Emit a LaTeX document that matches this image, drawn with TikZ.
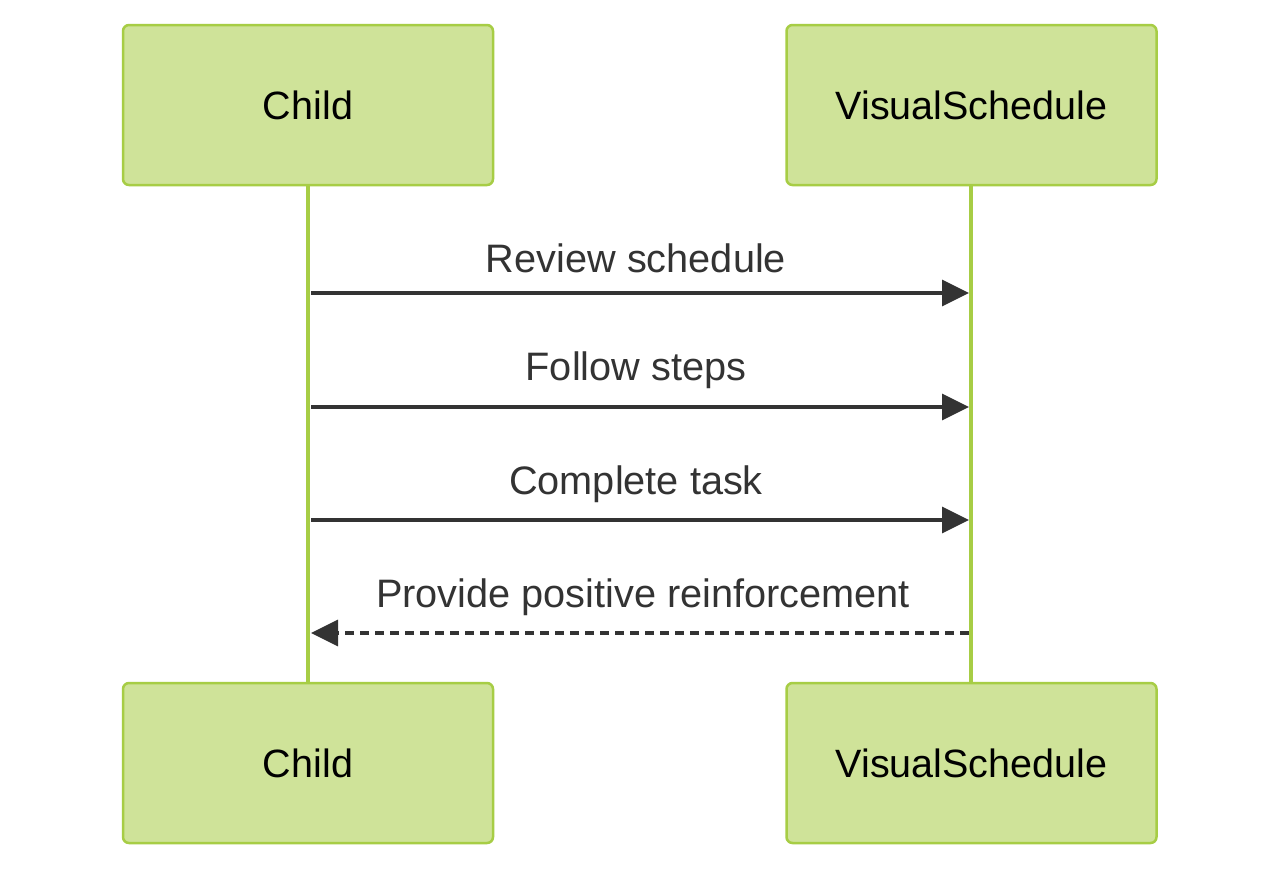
\documentclass[tikz,border=0pt]{standalone}
\usepackage{fontspec}
\setmainfont{Liberation Sans}
\usetikzlibrary{arrows.meta}
\definecolor{boxfill}{HTML}{CFE399}
\definecolor{boxline}{HTML}{A7CD45}
\definecolor{msg}{HTML}{333333}
\tikzset{
  actor/.style={draw=boxline, fill=boxfill, line width=2.5pt, rounded corners=6pt,
    minimum width=370pt, minimum height=160pt, font=\fontsize{39.5}{44}\selectfont, text=black},
  lifeline/.style={draw=boxline, line width=4pt},
  msgline/.style={draw=msg, line width=3.5pt, -{Triangle[length=27pt,width=26pt]}, shorten <=3pt, shorten >=2pt},
  retline/.style={draw=msg, line width=3.5pt, dash pattern=on 9pt off 6pt, -{Triangle[length=27pt,width=26pt]}, shorten <=2pt, shorten >=3pt},
  lbl/.style={font=\fontsize{39.7}{44}\selectfont, text=msg, anchor=base}
}
\begin{document}
\begin{tikzpicture}[x=1pt,y=-1pt]
\useasboundingbox (0,0) rectangle (1280,871);
\fill[white] (0,0) rectangle (1280,871);
\draw[lifeline] (308,185) coordinate (ct) -- (308,683) coordinate (cb);
\draw[lifeline] (971,185) coordinate (vt) -- (971,683) coordinate (vb);
\node[actor] (child1) at (308,105) {Child};
\node[actor] (vs1) at (971.5,105) {VisualSchedule};
\node[actor] (child2) at (308,763) {Child};
\node[actor] (vs2) at (971.5,763) {VisualSchedule};
\coordinate (c1) at (308,293); \coordinate (v1) at (971,293);
\coordinate (c2) at (308,407); \coordinate (v2) at (971,407);
\coordinate (c3) at (308,520); \coordinate (v3) at (971,520);
\coordinate (c4) at (308,633); \coordinate (v4) at (971,633);
\draw[msgline] (c1) -- (v1);
\draw[msgline] (c2) -- (v2);
\draw[msgline] (c3) -- (v3);
\draw[retline] (v4) -- (c4);
\node[lbl] (l1) at (636,272) {Review schedule};
\node[lbl] (l2) at (636,380) {Follow steps};
\node[lbl] (l3) at (636,494) {Complete task};
\node[lbl] (l4) at (643,607) {Provide positive reinforcement};
\end{tikzpicture}
\end{document}
